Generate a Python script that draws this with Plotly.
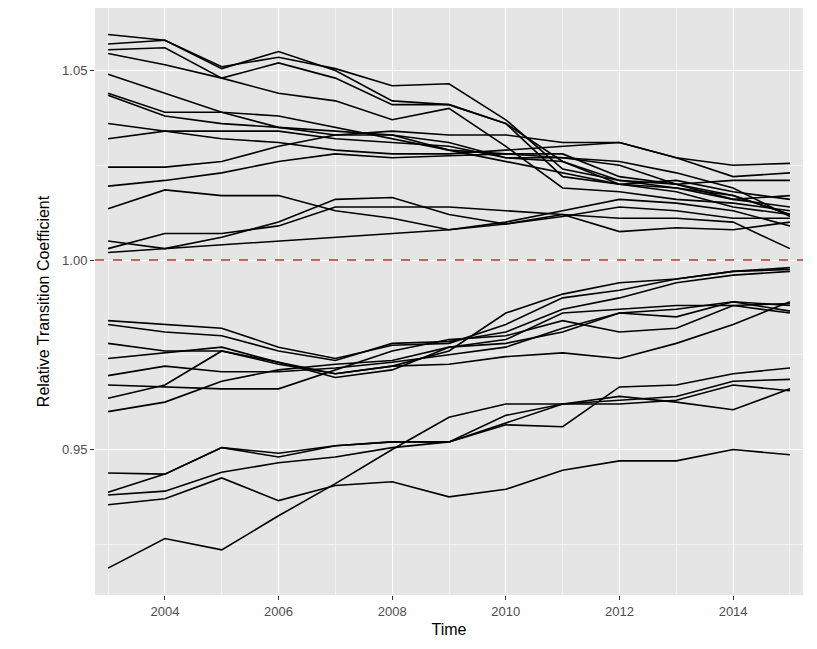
import plotly.graph_objects as go

years = list(range(2003, 2016))

# relative transition coefficient per series
upper = [
    [1.0595, 1.058, 1.051, 1.0535, 1.0505, 1.046, 1.0465, 1.037, 1.024, 1.021, 1.020, 1.017, 1.012],
    [1.057, 1.058, 1.0505, 1.055, 1.050, 1.042, 1.041, 1.036, 1.026, 1.020, 1.021, 1.018, 1.016],
    [1.0555, 1.056, 1.048, 1.052, 1.048, 1.041, 1.041, 1.036, 1.022, 1.020, 1.019, 1.016, 1.014],
    [1.0545, 1.0515, 1.048, 1.044, 1.042, 1.037, 1.040, 1.030, 1.019, 1.018, 1.016, 1.015, 1.013],
    [1.049, 1.044, 1.039, 1.038, 1.035, 1.032, 1.029, 1.028, 1.027, 1.026, 1.023, 1.019, 1.0115],
    [1.044, 1.039, 1.039, 1.035, 1.034, 1.033, 1.031, 1.027, 1.026, 1.021, 1.019, 1.017, 1.012],
    [1.0435, 1.038, 1.036, 1.035, 1.033, 1.033, 1.029, 1.026, 1.023, 1.020, 1.018, 1.014, 1.012],
    [1.036, 1.034, 1.032, 1.031, 1.029, 1.028, 1.028, 1.029, 1.030, 1.031, 1.027, 1.022, 1.023],
    [1.032, 1.034, 1.034, 1.034, 1.032, 1.031, 1.030, 1.027, 1.027, 1.025, 1.020, 1.021, 1.021],
    [1.0245, 1.0245, 1.026, 1.030, 1.033, 1.034, 1.033, 1.033, 1.031, 1.031, 1.027, 1.025, 1.0255],
    [1.0195, 1.021, 1.023, 1.026, 1.028, 1.027, 1.0275, 1.028, 1.028, 1.022, 1.020, 1.016, 1.017],
    [1.0135, 1.0185, 1.017, 1.017, 1.013, 1.011, 1.008, 1.010, 1.013, 1.016, 1.015, 1.013, 1.009],
    [1.005, 1.003, 1.006, 1.010, 1.016, 1.0165, 1.012, 1.0095, 1.012, 1.011, 1.011, 1.010, 1.003],
    [1.003, 1.007, 1.007, 1.009, 1.014, 1.014, 1.014, 1.013, 1.012, 1.0075, 1.0085, 1.008, 1.010],
    [1.002, 1.003, 1.004, 1.005, 1.006, 1.007, 1.008, 1.0095, 1.0115, 1.014, 1.013, 1.011, 1.011],
]
lower = [
    [0.984, 0.983, 0.982, 0.977, 0.974, 0.9775, 0.978, 0.983, 0.990, 0.992, 0.995, 0.997, 0.998],
    [0.983, 0.981, 0.980, 0.976, 0.9735, 0.978, 0.9785, 0.981, 0.987, 0.990, 0.994, 0.996, 0.997],
    [0.978, 0.976, 0.976, 0.9725, 0.970, 0.972, 0.976, 0.986, 0.991, 0.994, 0.995, 0.997, 0.9975],
    [0.974, 0.9755, 0.977, 0.973, 0.969, 0.971, 0.977, 0.979, 0.986, 0.987, 0.988, 0.988, 0.9885],
    [0.9695, 0.972, 0.9705, 0.9705, 0.9715, 0.973, 0.975, 0.977, 0.982, 0.986, 0.985, 0.989, 0.988],
    [0.967, 0.9665, 0.966, 0.966, 0.971, 0.976, 0.979, 0.980, 0.984, 0.981, 0.982, 0.988, 0.986],
    [0.9635, 0.967, 0.976, 0.973, 0.970, 0.972, 0.9725, 0.9745, 0.9755, 0.974, 0.978, 0.983, 0.989],
    [0.960, 0.9625, 0.968, 0.971, 0.9725, 0.9735, 0.977, 0.978, 0.981, 0.986, 0.987, 0.989, 0.9865],
    [0.9438, 0.9435, 0.9505, 0.949, 0.951, 0.952, 0.952, 0.9565, 0.956, 0.9665, 0.967, 0.970, 0.9715],
    [0.9387, 0.9435, 0.9505, 0.948, 0.951, 0.952, 0.952, 0.957, 0.962, 0.962, 0.963, 0.967, 0.9655],
    [0.938, 0.939, 0.944, 0.9465, 0.948, 0.9505, 0.952, 0.959, 0.962, 0.963, 0.964, 0.968, 0.9685],
    [0.9354, 0.937, 0.9425, 0.9365, 0.9405, 0.9415, 0.9375, 0.9395, 0.9445, 0.947, 0.947, 0.950, 0.9486],
    [0.9187, 0.9265, 0.9235, 0.9325, 0.941, 0.950, 0.9585, 0.962, 0.962, 0.964, 0.9625, 0.9605, 0.966],
]

fig = go.Figure()
for s in upper + lower:
    fig.add_trace(go.Scatter(x=years, y=s, mode="lines",
                             line=dict(color="black", width=1.6), showlegend=False))

fig.add_hline(y=1.0, line=dict(color="#b03a2e", width=1.6, dash="dash"))

axis_common = dict(showgrid=True, gridcolor="white", gridwidth=1.3, zeroline=False,
                   automargin=False,
                   ticks="outside", ticklen=4, tickcolor="#333333",
                   tickfont=dict(color="#4d4d4d", size=13))
fig.update_xaxes(range=[2002.77, 2015.23], tick0=2004, dtick=2,
                 minor=dict(showgrid=True, gridcolor="#f2f2f2", gridwidth=0.6, dtick=1, tick0=2003),
                 title=dict(text="Time", font=dict(size=16, color="black"), standoff=6),
                 **axis_common)
fig.update_yaxes(range=[0.9116, 1.0665], tick0=0.95, dtick=0.05, tickformat=".2f",
                 minor=dict(showgrid=True, gridcolor="#f2f2f2", gridwidth=0.6, dtick=0.025, tick0=0.925),
                 title=dict(text="Relative Transition Coefficient", font=dict(size=16, color="black"), standoff=8),
                 **axis_common)
fig.update_layout(width=809, height=641, plot_bgcolor="#e5e5e5", paper_bgcolor="white",
                  font=dict(family="Liberation Sans, Arial"),
                  margin=dict(l=87, r=14, t=0, b=54))
fig.write_html("out.html")
